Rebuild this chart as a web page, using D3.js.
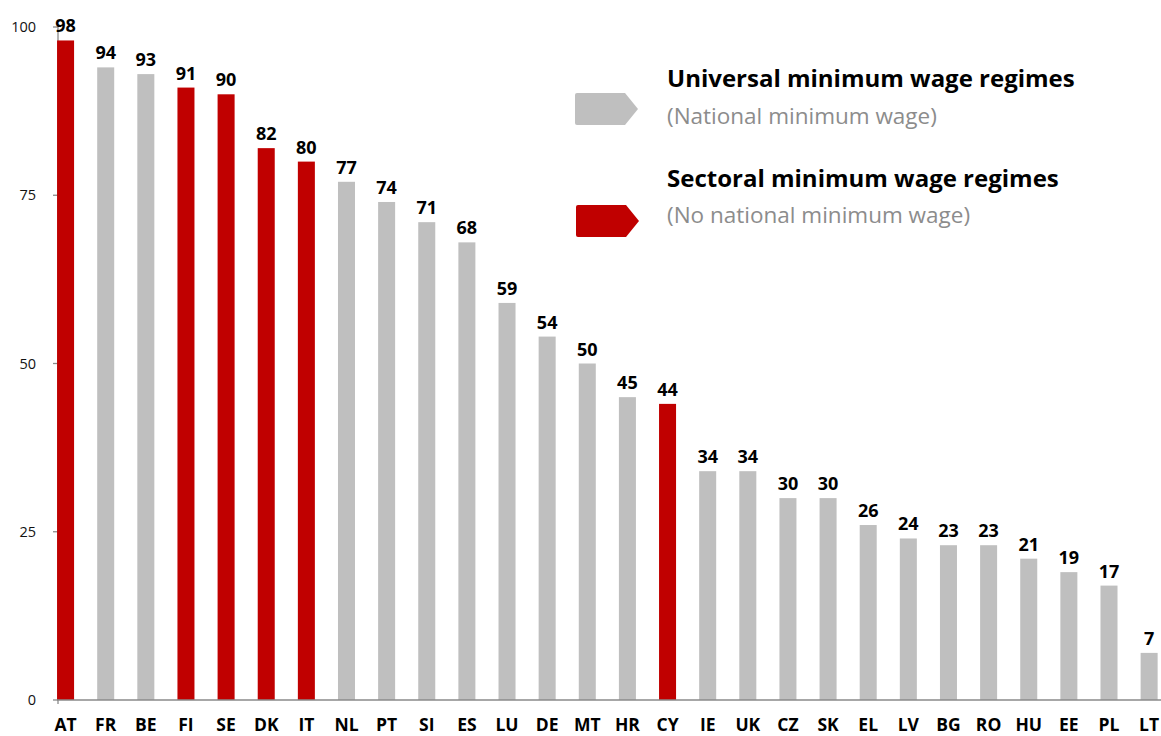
<!DOCTYPE html>
<html>
<head>
<meta charset="utf-8">
<script src="https://cdn.jsdelivr.net/npm/d3@7"></script>
<style>
  html, body { margin: 0; padding: 0; background: #fff; }
  svg { display: block; font-family: "Open Sans", "Noto Sans", sans-serif; }
</style>
</head>
<body>
<svg id="chart" width="1161" height="736"></svg>
<script>
// Coverage by country, sorted descending
const countries = ["AT","FR","BE","FI","SE","DK","IT","NL","PT","SI","ES","LU","DE","MT","HR","CY","IE","UK","CZ","SK","EL","LV","BG","RO","HU","EE","PL","LT"];
const values    = [98, 94, 93, 91, 90, 82, 80, 77, 74, 71, 68, 59, 54, 50, 45, 44, 34, 34, 30, 30, 26, 24, 23, 23, 21, 19, 17, 7];
const regimes   = ["S","U","U","S","S","S","S","U","U","U","U","U","U","U","U","S","U","U","U","U","U","U","U","U","U","U","U","U"];
const yTicks    = [0, 25, 50, 75, 100];

const legendItems = [
  { key: "U", title: "Universal minimum wage regimes", note: "(National minimum wage)" },
  { key: "S", title: "Sectoral minimum wage regimes",  note: "(No national minimum wage)" }
];
const colors = { U: "#BFBFBF", S: "#C00000" };

const data = countries.map((c, i) => ({ country: c, value: values[i], regime: regimes[i] }));

const svg = d3.select("#chart");
const axisX0 = 58, baseY = 700, topY = 27;

const x = d3.scaleBand()
  .domain(countries)
  .range([45.5, 1169.2])
  .paddingInner(0.576)
  .paddingOuter(0.288);

const y = d3.scaleLinear().domain([0, 100]).range([baseY, topY]);

// Y axis: ticks and labels on the left
const yAxis = svg.append("g");
yAxis.append("line")
  .attr("x1", axisX0).attr("x2", axisX0)
  .attr("y1", y(100)).attr("y2", baseY)
  .attr("stroke", "#8a8a8a").attr("stroke-width", 1.3);
yAxis.selectAll("line.tick").data(yTicks).join("line")
  .attr("class", "tick")
  .attr("x1", 53).attr("x2", axisX0)
  .attr("y1", d => y(d)).attr("y2", d => y(d))
  .attr("stroke", "#8a8a8a").attr("stroke-width", 1.3);
yAxis.selectAll("text").data(yTicks).join("text")
  .attr("x", 36).attr("y", d => y(d))
  .attr("dy", "0.35em")
  .attr("text-anchor", "end")
  .attr("font-size", 14.5)
  .attr("fill", "#111")
  .text(d => d);

// Bars
svg.append("g").selectAll("rect").data(data).join("rect")
  .attr("x", d => x(d.country))
  .attr("width", x.bandwidth())
  .attr("y", d => y(d.value))
  .attr("height", d => baseY - y(d.value))
  .attr("fill", d => colors[d.regime]);

// X axis baseline
svg.append("line")
  .attr("x1", axisX0 - 1).attr("x2", 1161)
  .attr("y1", baseY).attr("y2", baseY)
  .attr("stroke", "#8a8a8a").attr("stroke-width", 1.5);
svg.append("line")
  .attr("x1", axisX0).attr("x2", axisX0)
  .attr("y1", baseY).attr("y2", baseY + 4)
  .attr("stroke", "#8a8a8a").attr("stroke-width", 1.3);

// Value labels
svg.append("g").selectAll("text").data(data).join("text")
  .attr("x", d => x(d.country) + x.bandwidth() / 2)
  .attr("y", d => y(d.value) - 8)
  .attr("text-anchor", "middle")
  .attr("font-size", 18)
  .attr("font-weight", 700)
  .attr("fill", "#000")
  .text(d => d.value);

// Country labels
svg.append("g").selectAll("text").data(data).join("text")
  .attr("x", d => x(d.country) + x.bandwidth() / 2)
  .attr("y", 731)
  .attr("text-anchor", "middle")
  .attr("font-size", 17.5)
  .attr("font-weight", 700)
  .attr("fill", "#000")
  .text(d => d.country);

// Legend with arrow-shaped swatches
const legend = svg.append("g");
const legendRows = [
  { sy: 93, baseTitle: 87, baseNote: 124 },
  { sy: 205, baseTitle: 187, baseNote: 223 }
];
legendItems.forEach((item, i) => {
  const r = legendRows[i];
  const x0 = 575 + i, w = 63, h = 32, tip = 13;
  const path = d3.path();
  path.moveTo(x0 + 2, r.sy);
  path.lineTo(x0 + w - tip, r.sy);
  path.lineTo(x0 + w, r.sy + h / 2);
  path.lineTo(x0 + w - tip, r.sy + h);
  path.lineTo(x0 + 2, r.sy + h);
  path.quadraticCurveTo(x0, r.sy + h, x0, r.sy + h - 2);
  path.lineTo(x0, r.sy + 2);
  path.quadraticCurveTo(x0, r.sy, x0 + 2, r.sy);
  path.closePath();
  legend.append("path").attr("d", path.toString()).attr("fill", colors[item.key]);
  legend.append("text")
    .attr("x", 667).attr("y", r.baseTitle)
    .attr("font-size", 24).attr("font-weight", 700).attr("fill", "#000")
    .text(item.title);
  legend.append("text")
    .attr("x", 667).attr("y", r.baseNote)
    .attr("font-size", 22.5).attr("fill", "#8c8c8c")
    .text(item.note);
});
</script>
</body>
</html>
